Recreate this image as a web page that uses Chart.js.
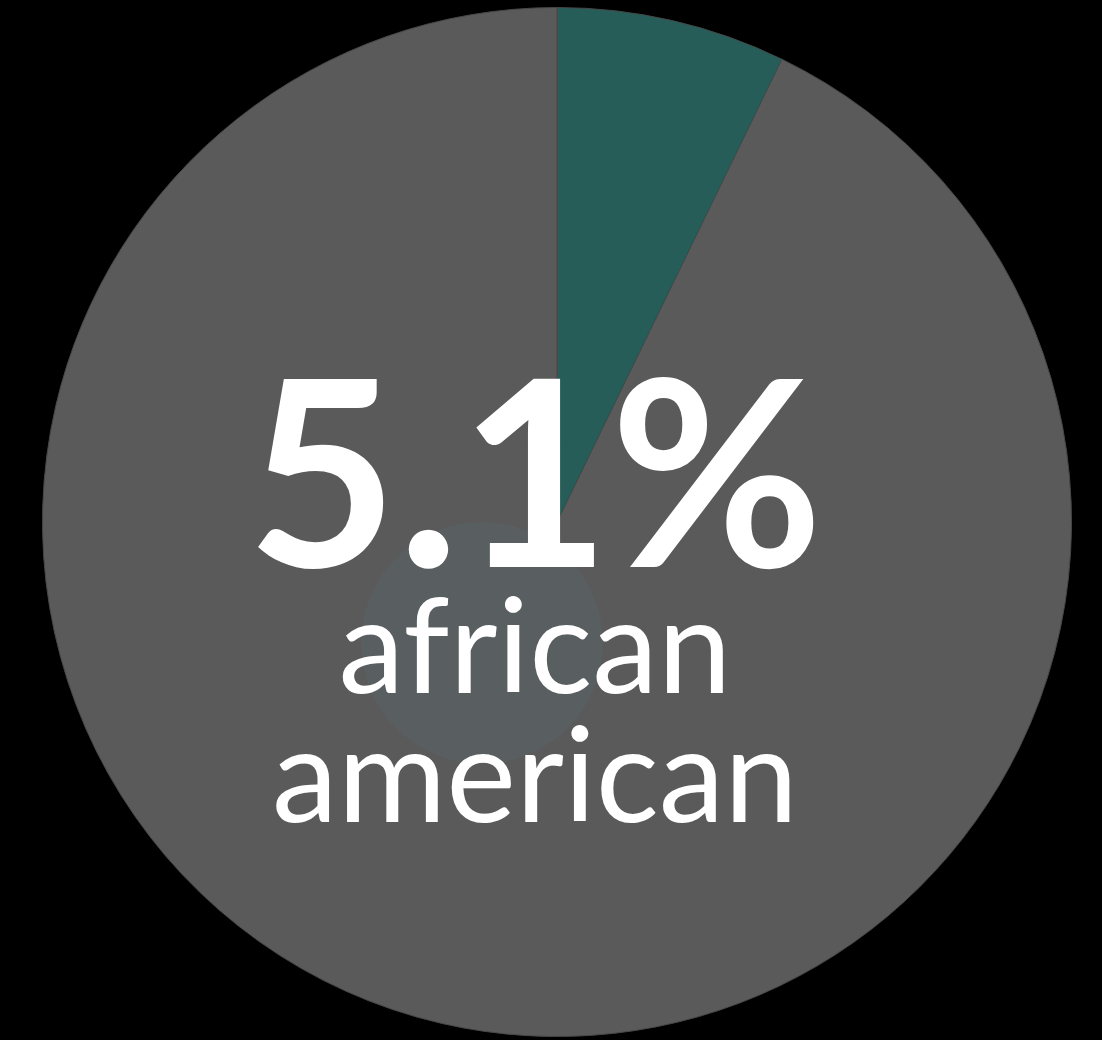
<!DOCTYPE html>
<html>
<head>
<meta charset="utf-8">
<script src="https://cdn.jsdelivr.net/npm/chart.js@4.4.1/dist/chart.umd.min.js"></script>
<style>
    html, body { margin: 0; padding: 0; background: #000; }
    #wrap { width: 1102px; height: 1040px; }
</style>
</head>
<body>
<div id="wrap"><canvas id="pieChart"></canvas></div>
<script>
// 数据
var categories = ['african american', 'other'];
var shares = [7.2, 92.8];
var sliceColors = ['#275d59', '#5a5a5a'];
var bigLabel = '5.1%';
var subLabel = ['african', 'american'];

// 中间的浅色圆和文字
var centerDecor = {
    id: 'centerDecor',
    afterDatasetsDraw: function(chart) {
        var arc = chart.getDatasetMeta(0).data[0];
        var cx = arc.x, cy = arc.y;
        var ctx = chart.ctx;
        ctx.save();
        // 浅色圆
        ctx.fillStyle = '#595e61';
        ctx.beginPath();
        ctx.arc(cx - 75, cy + 121, 121, 0, Math.PI * 2);
        ctx.fill();

        // 文字
        var tx = cx - 22;
        ctx.fillStyle = '#ffffff';
        ctx.textAlign = 'center';
        ctx.textBaseline = 'alphabetic';
        ctx.font = '700 260px Lato';
        ctx.fillText(bigLabel, tx, cy + 45);
        ctx.font = '400 132px Lato';
        ctx.fillText(subLabel[0], tx, cy + 171);
        ctx.fillText(subLabel[1], tx, cy + 300);
        ctx.restore();
    }
};

new Chart(document.getElementById('pieChart'), {
    type: 'pie',
    data: {
        labels: categories,
        datasets: [{
            data: shares,
            backgroundColor: sliceColors,
            borderColor: '#474747',
            borderWidth: 1
        }]
    },
    options: {
        responsive: true,
        maintainAspectRatio: false,
        animation: false,
        layout: { padding: { top: 7, bottom: 3, left: 12, right: 0 } },
        plugins: {
            legend: { display: false },
            tooltip: { enabled: false }
        }
    },
    plugins: [centerDecor]
});
</script>
</body>
</html>
